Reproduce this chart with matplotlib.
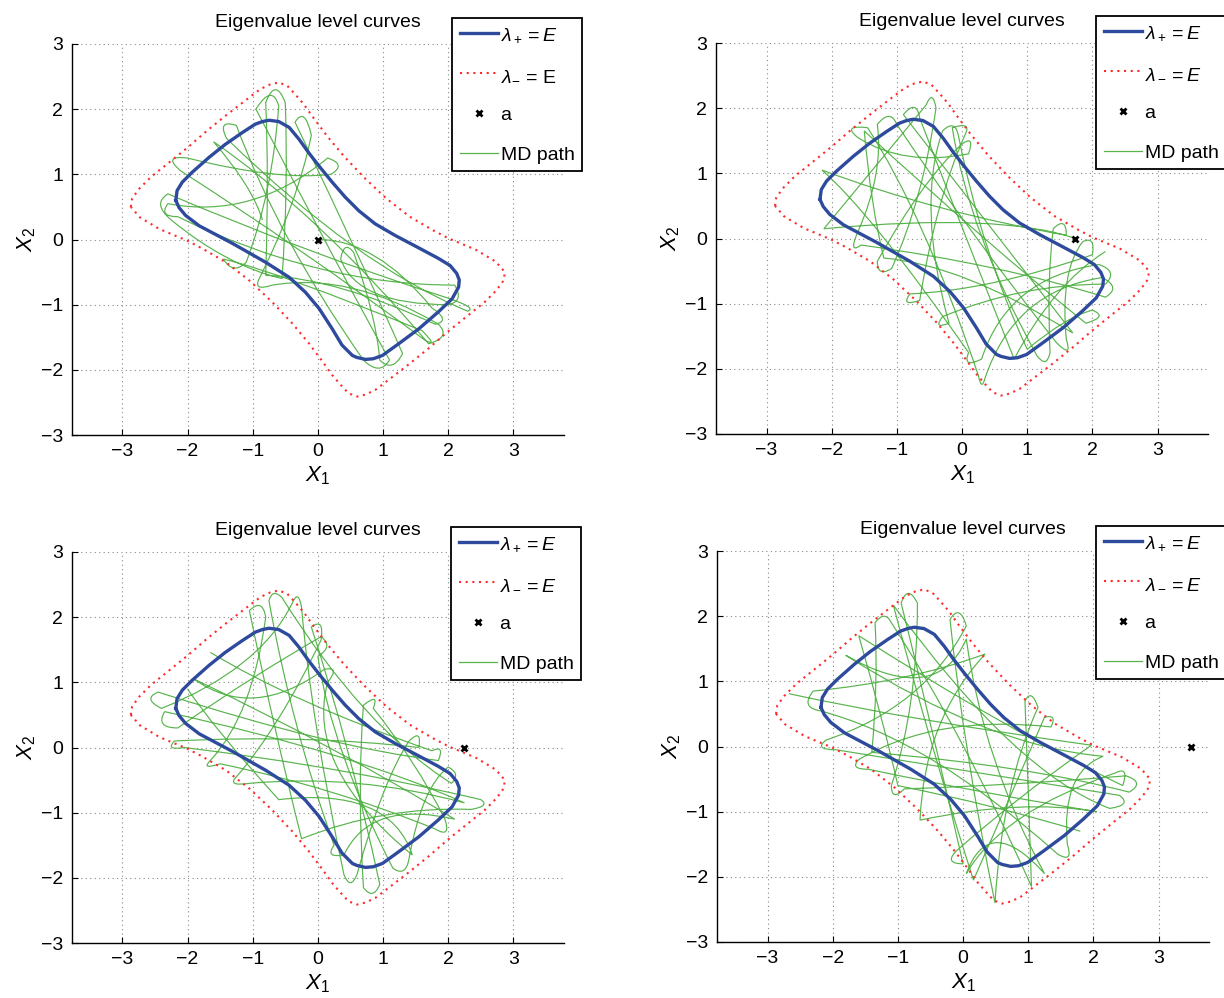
import matplotlib
matplotlib.use("Agg")
import matplotlib.pyplot as plt
from matplotlib.path import Path
from matplotlib.patches import PathPatch
from matplotlib.lines import Line2D

plt.rcParams["font.family"] = ["Liberation Sans", "DejaVu Sans"]
plt.rcParams["mathtext.fontset"] = "custom"
plt.rcParams["mathtext.rm"] = "Liberation Sans"
plt.rcParams["mathtext.it"] = "Liberation Sans:italic"
plt.rcParams["mathtext.bf"] = "Liberation Sans:bold"

# ---- data -----------------------------------------------------------------
# level curve lambda_+ = E (closed, clockwise from the left end)
lam_plus_x = [-2.18, -2.16, -2.08, -1.93, -1.67, -1.42, -1.16, -0.96, -0.85, -0.75,
              -0.60, -0.44, -0.29, -0.14, 0.04, 0.22, 0.42, 0.63, 0.88, 1.19,
              1.55, 1.85, 2.03, 2.13, 2.17, 2.16, 2.06, 1.85, 1.55, 1.24,
              0.99, 0.85, 0.73, 0.60, 0.53, 0.37, 0.22, 0.02, -0.19, -0.44,
              -0.80, -1.31, -1.82, -2.03, -2.13]
lam_plus_y = [0.60, 0.75, 0.88, 1.03, 1.26, 1.46, 1.64, 1.77, 1.81, 1.83,
              1.81, 1.72, 1.54, 1.33, 1.10, 0.88, 0.65, 0.44, 0.24, 0.06,
              -0.13, -0.29, -0.40, -0.52, -0.62, -0.73, -0.91, -1.11, -1.37, -1.60,
              -1.78, -1.83, -1.84, -1.81, -1.78, -1.62, -1.37, -1.06, -0.81, -0.58,
              -0.35, -0.06, 0.21, 0.37, 0.49]

# level curve lambda_- = E (closed, clockwise from the left end)
lam_minus_x = [-2.87, -2.85, -2.74, -2.56, -2.31, -2.00, -1.70, -1.39, -1.09, -0.88,
               -0.73, -0.60, -0.47, -0.35, -0.22, -0.07, 0.14, 0.39, 0.70, 1.05,
               1.41, 1.77, 2.00, 2.43, 2.73,
               2.87, 2.85, 2.74, 2.56, 2.31, 2.00, 1.70, 1.39, 1.09, 0.88,
               0.73, 0.60, 0.47, 0.35, 0.22, 0.07, -0.14, -0.39, -0.70, -1.05,
               -1.41, -1.77, -2.00, -2.43, -2.73]
lam_minus_y = [0.50, 0.63, 0.78, 0.96, 1.16, 1.41, 1.67, 1.92, 2.15, 2.31,
               2.38, 2.41, 2.36, 2.23, 2.08, 1.87, 1.59, 1.29, 0.96, 0.63,
               0.35, 0.14, 0.02, -0.16, -0.34,
               -0.50, -0.63, -0.78, -0.96, -1.16, -1.41, -1.67, -1.92, -2.15, -2.31,
               -2.38, -2.41, -2.36, -2.23, -2.08, -1.87, -1.59, -1.29, -0.96, -0.63,
               -0.35, -0.14, -0.02, 0.16, 0.34]

# point a for each run
a_x = [0.0, 1.74, 2.25, 3.5]
a_y = [0.0, 0.0, 0.0, 0.0]

# MD trajectories: on-path turning points alternating with curve control points
md_path_1 = [(0.00, 0.00), (0.90, 0.00), (1.75, -1.05), (2.05, -1.25), (1.80, -1.30),
             (0.30, -0.60), (-0.80, -0.55), (-0.75, 1.00), (-0.80, 2.10), (-0.65, 2.50),
             (-0.50, 2.10), (-0.45, 0.80), (-0.55, -0.60), (-1.40, -0.40), (-2.25, 0.30),
             (-2.55, 0.55), (-2.30, 0.70), (-0.20, -0.20), (2.00, -0.90), (2.45, -1.05),
             (2.30, -1.10), (0.60, -0.40), (-1.40, 1.55), (-1.55, 1.85), (-1.25, 1.75),
             (-0.60, 0.00), (0.70, -1.85), (0.95, -2.10), (1.10, -1.85), (0.40, -0.60),
             (-0.95, 2.00), (-0.70, 2.40), (-0.60, 2.05), (-0.70, 0.70), (-1.10, -0.35),
             (-1.30, -0.55), (-1.45, -0.30), (-0.60, -0.50), (1.60, -1.40), (1.85, -1.65),
             (1.65, -1.55), (-0.30, -0.10), (-2.10, 1.05), (-2.40, 1.30), (-2.00, 1.25),
             (-0.60, 0.90), (0.20, 1.00), (0.45, 1.15), (0.15, 1.25), (-1.00, 0.30),
             (-2.30, 0.55), (-2.45, 0.35), (-2.15, 0.35), (0.00, -0.70), (2.10, -0.70),
             (2.25, -0.95), (2.00, -1.00), (0.60, -1.00), (0.35, -0.30), (0.40, 0.00),
             (0.55, -0.20), (0.90, -1.20), (0.95, -1.85), (1.15, -2.05), (1.30, -1.75),
             (0.80, -0.60), (-0.35, 1.80), (-0.20, 2.05), (-0.10, 1.60), (-0.30, 0.60),
             (-0.90, -0.60), (-1.00, -0.80), (-0.70, -0.70), (0.50, -0.50), (1.85, -1.30),
             (2.05, -1.50), (1.70, -1.60), (0.00, 0.40), (-1.60, 1.50), (-1.00, 0.80),
             (-0.85, 0.30)]

md_path_2 = [(1.74, 0.00), (0.60, 0.40), (-2.12, 0.15), (-1.50, 0.90), (-0.55, 2.05),
             (-0.45, 2.30), (-0.40, 2.00), (-0.60, 0.60), (-1.08, -0.46), (-1.30, -0.60),
             (-1.30, -0.35), (-0.60, 0.90), (0.00, 1.45), (0.20, 1.60), (0.10, 1.30),
             (-0.90, 1.10), (-1.60, 1.55), (-1.85, 1.75), (-1.45, 1.70), (-0.60, 0.40),
             (0.25, -2.10), (0.30, -2.35), (0.35, -2.15), (0.80, -0.80), (2.15, -0.60),
             (2.45, -0.75), (2.20, -0.90), (0.60, -0.40), (-1.55, -0.10), (-1.75, -0.25),
             (-1.60, 0.10), (-1.20, 1.00), (-1.30, 1.75), (-1.10, 2.00), (-1.00, 1.75),
             (0.10, 0.10), (1.45, -1.60), (1.70, -1.85), (1.60, -1.55), (1.50, -0.50),
             (1.85, -0.05), (2.05, 0.05), (2.00, -0.25), (0.40, -0.80), (-0.80, -0.85),
             (-0.95, -1.05), (-0.65, -0.95), (-0.40, 0.60), (0.05, 1.60), (0.15, 1.80),
             (-0.15, 1.70), (0.10, 0.10), (1.15, -1.80), (1.30, -2.00), (1.35, -1.75),
             (1.30, -0.60), (1.40, 0.15), (1.60, 0.35), (1.60, 0.05), (-0.40, 0.40),
             (-2.15, 1.05), (-1.40, 0.40), (0.10, -1.75), (0.00, -2.00), (0.30, -1.85),
             (0.70, -0.60), (2.10, -0.40), (2.40, -0.50), (2.20, -0.70), (0.90, -0.70),
             (-0.30, -1.20), (-0.45, -1.40), (-0.20, -1.30), (-0.70, 0.50), (-0.30, 1.65),
             (-0.10, 1.85), (-0.05, 1.55), (0.30, -0.20), (1.00, -1.70), (1.60, -1.20),
             (2.00, -1.10), (2.25, -1.20), (1.90, -1.30), (0.40, -0.10), (-1.50, 1.65),
             (-1.40, 0.50), (-1.20, -0.30), (0.00, -0.40), (1.70, -1.45), (0.80, -0.30),
             (-0.90, 1.90), (-0.70, 2.15), (-0.65, 1.85), (-0.10, 0.40), (0.80, -1.85),
             (1.40, -0.70), (2.20, -0.20)]

md_path_3 = [(-1.65, 1.46), (-0.40, 0.70), (1.75, -0.05), (1.95, 0.05), (1.85, -0.20),
             (0.20, 0.00), (-2.45, 0.85), (-2.70, 0.75), (-2.40, 0.60), (-0.90, 1.20),
             (-0.40, 2.20), (-0.30, 2.45), (-0.25, 2.15), (-0.10, 0.40), (0.40, -1.95),
             (0.50, -2.20), (0.60, -1.95), (1.00, -0.50), (1.40, 0.10), (1.60, 0.30),
             (1.55, 0.00), (-0.20, 0.20), (-2.20, 0.10), (-2.35, -0.05), (-2.05, 0.00),
             (0.40, -0.30), (2.50, -0.80), (2.65, -0.90), (2.35, -0.95), (1.00, -0.90),
             (-0.25, -1.40), (-0.70, 0.40), (-1.05, 2.10), (-0.85, 2.30), (-0.80, 2.00),
             (-1.00, 0.50), (-1.65, -0.20), (-1.80, -0.35), (-1.50, -0.25), (0.20, -0.60),
             (1.80, -1.25), (2.05, -1.40), (1.95, -1.10), (1.50, -0.20), (0.85, 0.60),
             (0.95, 0.85), (0.70, 0.65), (0.60, -0.60), (0.70, -2.15), (0.85, -2.35),
             (0.95, -2.10), (0.50, 0.00), (-0.10, 1.85), (0.10, 2.00), (0.05, 1.65),
             (-0.60, 0.30), (-1.25, -0.45), (-1.40, -0.60), (-1.05, -0.55), (0.60, -0.40),
             (2.25, -0.85), (0.60, -0.10), (-2.35, 0.55), (-2.50, 0.30), (-2.15, 0.30),
             (-1.00, 1.10), (0.05, 1.70), (0.25, 1.55), (0.00, 1.40), (0.20, 0.00),
             (1.15, -1.85), (1.35, -2.00), (1.40, -1.70), (1.60, -0.60), (2.00, -0.30),
             (2.20, -0.40), (2.05, -0.55), (0.70, 0.30), (-0.55, 2.30), (-0.70, 2.45),
             (-0.75, 2.25), (-0.40, 0.30), (0.25, -1.50), (0.10, -1.70), (0.40, -1.65),
             (0.80, -0.80), (2.10, -1.10), (0.30, 0.00), (-1.90, 1.05), (-1.00, 0.40),
             (0.10, 1.20), (0.35, 1.25), (0.15, 1.00), (-0.20, -0.30), (1.45, -1.65),
             (1.10, -0.60), (-0.60, -0.80), (-1.60, 0.30), (-2.00, 0.90)]

md_path_4 = [(-2.67, 0.81), (-0.80, 0.40), (1.97, 0.02), (0.80, -0.80), (-0.10, -1.60),
             (-0.30, -1.80), (0.00, -1.80), (-0.50, 0.40), (-0.95, 2.20), (-0.85, 2.50),
             (-0.70, 2.20), (-0.70, 0.60), (-1.10, -0.60), (-1.10, -0.85), (-0.90, -0.65),
             (0.70, -0.60), (2.50, -0.45), (2.80, -0.55), (2.55, -0.70), (1.00, -0.30),
             (-1.40, -0.09), (-1.30, 1.00), (-1.35, 1.90), (-1.20, 2.10), (-1.10, 1.90),
             (0.00, 0.20), (1.05, -2.15), (1.00, -0.60), (0.95, 0.70), (1.05, 0.90),
             (1.15, 0.60), (0.60, -0.60), (0.49, -2.40), (0.00, 0.00), (-0.20, 1.95),
             (-0.05, 2.20), (0.05, 1.85), (-0.60, 0.60), (-2.10, 0.10), (-2.30, -0.05),
             (-1.95, -0.05), (0.20, -0.40), (2.40, -0.75), (2.60, -0.90), (2.25, -0.95),
             (0.80, -0.40), (-1.07, 2.17), (-0.50, 0.00), (0.16, -2.05), (0.80, -0.60),
             (1.25, 0.45), (1.45, 0.50), (1.35, 0.30), (-0.40, 0.50), (-1.60, -0.20),
             (-1.75, -0.35), (-1.45, -0.35), (0.20, -0.70), (2.05, -1.00), (0.90, -0.80),
             (-0.66, -1.13), (-0.60, 0.40), (0.34, 1.42), (-0.80, 1.00), (-2.30, 0.85),
             (-2.50, 0.60), (-2.20, 0.55), (-0.50, 0.10), (1.45, -1.65), (1.70, -1.80),
             (1.60, -1.50), (1.50, -0.40), (2.15, -0.15), (0.40, 0.00), (-1.80, 1.40),
             (-0.40, 0.60), (0.05, 1.65), (0.30, -0.20), (1.25, -1.95), (0.40, -1.00),
             (0.05, -1.95), (0.60, -1.00), (2.35, -0.40), (2.55, -0.30), (2.45, -0.60),
             (0.60, 0.30), (-1.60, 1.70), (-1.20, 0.30), (-1.00, -0.60), (0.50, -0.90),
             (1.80, -1.30)]

md_paths = [md_path_1, md_path_2, md_path_3, md_path_4]

legend_labels = [
    [r"$\lambda_+ = E$", r"$\lambda_{-}$ = E", "a", "MD path"],
    [r"$\lambda_+ = E$", r"$\lambda_- = E$", "a", "MD path"],
    [r"$\lambda_+ = E$", r"$\lambda_- = E$", "a", "MD path"],
    [r"$\lambda_+ = E$", r"$\lambda_- = E$", "a", "MD path"],
]

tick_values = [-3, -2, -1, 0, 1, 2, 3]

# ---- styling --------------------------------------------------------------
BLUE = "#2e4a9d"
RED = "#ff2a2a"
GREEN = "#58b44c"
W, H = 1224, 998

# axes boxes in pixels: (left edge, y of the x axis from the top)
ax_boxes = [(71.5, 435), (715.7, 434), (71.5, 943), (716.7, 942)]
legend_anchor = [(452, 18), (1096, 16), (451, 527), (1096, 526)]
XLIM = (-3.78, 3.78)
YLIM = (-3, 3)
AX_W, AX_H = 492.7, 391.0

fig = plt.figure(figsize=(W / 100, H / 100), dpi=100)

for k in range(4):
    left, bottom_px = ax_boxes[k]
    ax = fig.add_axes([left / W, (H - bottom_px) / H, AX_W / W, AX_H / H])
    ax.set_xlim(*XLIM)
    ax.set_ylim(*YLIM)

    ax.spines["top"].set_visible(False)
    ax.spines["right"].set_visible(False)
    for s in ("left", "bottom"):
        ax.spines[s].set_linewidth(1.0)
    ax.set_xticks(tick_values)
    ax.set_yticks(tick_values)
    ax.tick_params(direction="in", length=4, width=0.8, labelsize=14, pad=6)
    ax.grid(True, color="#8a8a8a", linestyle=(0, (1, 3)), linewidth=0.8)
    ax.set_axisbelow(True)

    # MD trajectory drawn as a chain of quadratic curves
    pts = md_paths[k]
    codes = [Path.MOVETO] + [Path.CURVE3] * (len(pts) - 1)
    ax.add_patch(PathPatch(Path(pts, codes), facecolor="none",
                           edgecolor=GREEN, linewidth=0.85, zorder=2))

    # level curves
    h_plus, = ax.plot(lam_plus_x + lam_plus_x[:1], lam_plus_y + lam_plus_y[:1],
                      color=BLUE, linewidth=2.4, zorder=3, solid_joinstyle="round")
    h_minus, = ax.plot(lam_minus_x + lam_minus_x[:1], lam_minus_y + lam_minus_y[:1],
                       color=RED, linewidth=1.5, linestyle=(0, (1, 2.2)), zorder=3)
    h_a, = ax.plot([a_x[k]], [a_y[k]], linestyle="none", marker="x",
                   color="black", markersize=5, markeredgewidth=2, zorder=4)
    h_md = Line2D([], [], color=GREEN, linewidth=0.9)

    ax.set_title("Eigenvalue level curves", fontsize=14, pad=12)
    ax.set_xlabel(r"$X_1$", fontsize=16, labelpad=3)
    ax.set_ylabel(r"$X_2$", fontsize=16, labelpad=2)

    lx, ly = legend_anchor[k]
    leg = ax.legend([h_plus, h_minus, h_a, h_md], legend_labels[k],
                    loc="upper left", bbox_to_anchor=(lx / W, 1 - ly / H),
                    bbox_transform=fig.transFigure, fontsize=14,
                    frameon=True, fancybox=False, framealpha=1.0,
                    edgecolor="black", handlelength=1.95, handletextpad=0.15,
                    labelspacing=1.15, borderpad=0.4, borderaxespad=0.0)
    leg.get_frame().set_linewidth(1.3)
    leg.set_zorder(10)

fig.savefig("out.png", dpi=100)
